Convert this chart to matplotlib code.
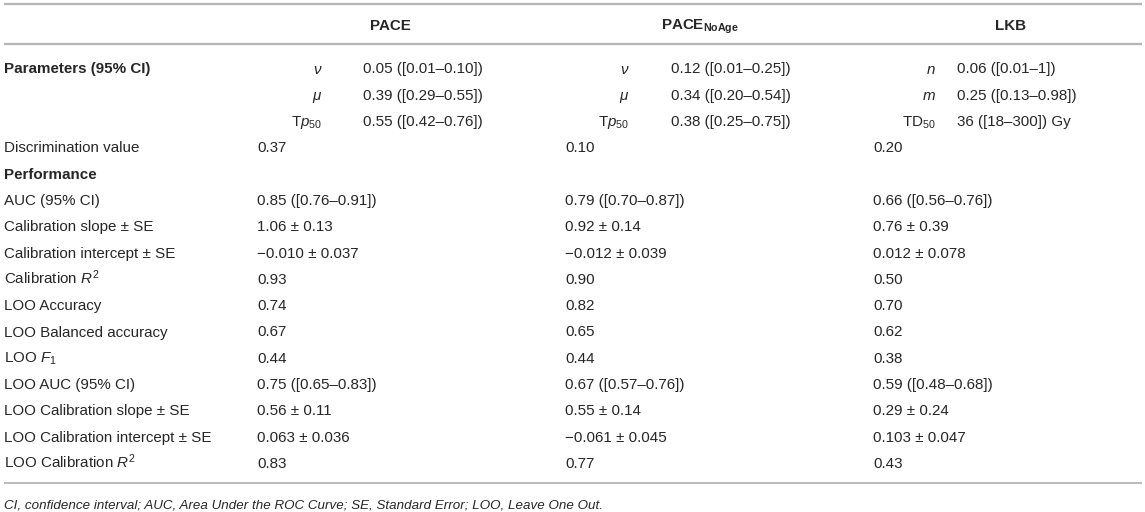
import matplotlib
matplotlib.use("Agg")
import matplotlib.pyplot as plt

plt.rcParams["font.family"] = ["Liberation Sans", "DejaVu Sans"]
plt.rcParams["mathtext.fontset"] = "custom"
plt.rcParams["mathtext.rm"] = "Liberation Sans"
plt.rcParams["mathtext.it"] = "Liberation Sans:italic"
plt.rcParams["mathtext.bf"] = "Liberation Sans:bold"

# table content
models = ["PACE", r"PACE$_{\mathbf{NoAge}}$", "LKB"]

row_labels = [
    "Parameters (95% CI)", "", "", "Discrimination value", "Performance",
    "AUC (95% CI)", "Calibration slope \u00b1 SE", "Calibration intercept \u00b1 SE",
    "Calibration $R^2$", "LOO Accuracy", "LOO Balanced accuracy", "LOO $F_1$",
    "LOO AUC (95% CI)", "LOO Calibration slope \u00b1 SE",
    "LOO Calibration intercept \u00b1 SE", "LOO Calibration $R^2$",
]
bold_rows = [0, 4]

param_symbols = [
    [r"$\nu$", r"$\mu$", r"T$p_{50}$"],
    [r"$\nu$", r"$\mu$", r"T$p_{50}$"],
    [r"$n$", r"$m$", r"TD$_{50}$"],
]
param_values = [
    ["0.05 ([0.01\u20130.10])", "0.39 ([0.29\u20130.55])", "0.55 ([0.42\u20130.76])"],
    ["0.12 ([0.01\u20130.25])", "0.34 ([0.20\u20130.54])", "0.38 ([0.25\u20130.75])"],
    ["0.06 ([0.01\u20131])", "0.25 ([0.13\u20130.98])", "36 ([18\u2013300]) Gy"],
]

discrimination = ["0.37", "0.10", "0.20"]

pace_perf = ["0.85 ([0.76\u20130.91])", "1.06 \u00b1 0.13", "\u22120.010 \u00b1 0.037",
             "0.93", "0.74", "0.67", "0.44", "0.75 ([0.65\u20130.83])",
             "0.56 \u00b1 0.11", "0.063 \u00b1 0.036", "0.83"]
noage_perf = ["0.79 ([0.70\u20130.87])", "0.92 \u00b1 0.14", "\u22120.012 \u00b1 0.039",
              "0.90", "0.82", "0.65", "0.44", "0.67 ([0.57\u20130.76])",
              "0.55 \u00b1 0.14", "\u22120.061 \u00b1 0.045", "0.77"]
lkb_perf = ["0.66 ([0.56\u20130.76])", "0.76 \u00b1 0.39", "0.012 \u00b1 0.078",
            "0.50", "0.70", "0.62", "0.38", "0.59 ([0.48\u20130.68])",
            "0.29 \u00b1 0.24", "0.103 \u00b1 0.047", "0.43"]
perf_values = [pace_perf, noage_perf, lkb_perf]

footnote = ("CI, confidence interval; AUC, Area Under the ROC Curve; "
            "SE, Standard Error; LOO, Leave One Out.")

# layout (pixels)
W, H = 1145, 512
label_x = 4
value_x = [257, 565, 873]
symbol_r = [322, 629, 936]
pvalue_x = [363, 671, 957]
header_x = [390, 700, 1010]
header_y = 24
row0, row_step = 68, 26.3
base = 5.5
fs = 10.9
txt = "#262626"
rule = "#b5b5b5"

fig = plt.figure(figsize=(W / 100, H / 100), dpi=100)
ax = fig.add_axes([0, 0, 1, 1])
ax.set_xlim(0, W)
ax.set_ylim(H, 0)
ax.axis("off")

# rules
ax.plot([4, 1142], [4, 4], color=rule, lw=1.6, solid_capstyle="butt")
ax.plot([4, 1142], [44, 44], color=rule, lw=1.6, solid_capstyle="butt")
ax.plot([4, 1142], [483, 483], color=rule, lw=1.3, solid_capstyle="butt")

# header
for hx, name in zip(header_x, models):
    ax.text(hx, header_y + base, name, ha="center", va="baseline",
            fontsize=fs, fontweight="bold", color=txt)

rows_y = [row0 + i * row_step for i in range(len(row_labels))]

for i, lab in enumerate(row_labels):
    if lab:
        ax.text(label_x, rows_y[i] + base, lab, ha="left", va="baseline",
                fontsize=fs, color=txt,
                fontweight="bold" if i in bold_rows else "normal")

for c in range(3):
    for k in range(3):
        y = rows_y[k] + base
        ax.text(symbol_r[c], y, param_symbols[c][k], ha="right", va="baseline",
                fontsize=fs, color=txt)
        ax.text(pvalue_x[c], y, param_values[c][k], ha="left", va="baseline",
                fontsize=fs, color=txt)
    ax.text(value_x[c], rows_y[3] + base, discrimination[c], ha="left",
            va="baseline", fontsize=fs, color=txt)
    for k, v in enumerate(perf_values[c]):
        ax.text(value_x[c], rows_y[5 + k] + base, v, ha="left", va="baseline",
                fontsize=fs, color=txt)

ax.text(label_x, 503 + 5, footnote, ha="left", va="baseline", fontsize=9.6,
        style="italic", color=txt)

fig.savefig("out.png", dpi=100)
